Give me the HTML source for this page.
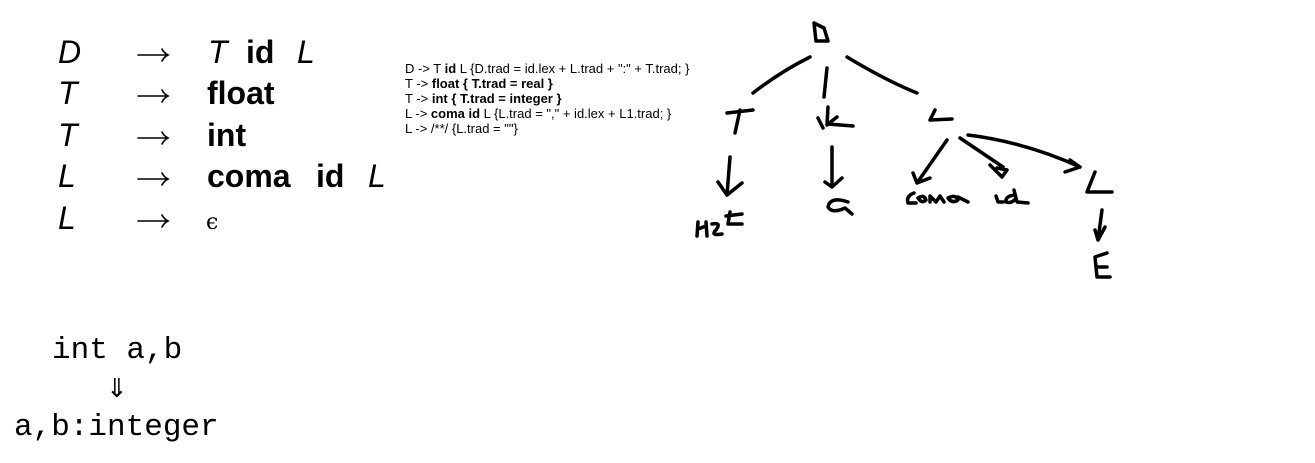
<!DOCTYPE html>
<html><head><meta charset="utf-8"><style>
html,body{margin:0;padding:0;background:#fff;width:1315px;height:463px;overflow:hidden}
svg{display:block}
</style></head><body>
<svg width="1315" height="463" viewBox="0 0 1315 463" xmlns="http://www.w3.org/2000/svg">
<g font-family="Liberation Sans, sans-serif" font-size="32" fill="#000">
<text x="58" y="63" font-style="italic">D</text>
<text x="58" y="104" font-style="italic">T</text>
<text x="58" y="146" font-style="italic">T</text>
<text x="58" y="187" font-style="italic">L</text>
<text x="58" y="229" font-style="italic">L</text>
<text x="208" y="63"><tspan font-style="italic">T</tspan><tspan x="246" font-weight="bold">id</tspan><tspan x="297" font-style="italic">L</tspan></text>
<text x="207" y="104" font-weight="bold">float</text>
<text x="207" y="146" font-weight="bold">int</text>
<text x="207" y="187"><tspan font-weight="bold">coma</tspan><tspan x="316" font-weight="bold">id</tspan><tspan x="368" font-style="italic">L</tspan></text>
<text x="206" y="229" font-family="DejaVu Serif, serif" font-size="22">ϵ</text>
</g>
<g fill="none" stroke="#000" stroke-width="1.6" stroke-linecap="round">
<path d="M138,55 L168,55 M162,49 Q164,53 168,55 Q164,57 162,61"/>
<path d="M138,96 L168,96 M162,90 Q164,94 168,96 Q164,98 162,102"/>
<path d="M138,138 L168,138 M162,132 Q164,136 168,138 Q164,140 162,144"/>
<path d="M138,179 L168,179 M162,173 Q164,177 168,179 Q164,181 162,185"/>
<path d="M138,221 L168,221 M162,215 Q164,219 168,221 Q164,223 162,227"/>
</g>
<g font-family="Liberation Mono, monospace" font-size="31" fill="#000">
<text x="52" y="358">int a,b</text>
<text x="14" y="435">a,b:integer</text>
</g>
<text x="106" y="397" font-family="DejaVu Sans, sans-serif" font-size="26">⇓</text>
<g font-family="Liberation Sans, sans-serif" font-size="13" fill="#000">
<text x="405" y="73">D -&gt; T <tspan font-weight="bold">id</tspan> L {D.trad = id.lex + L.trad + ":" + T.trad; }</text>
<text x="405" y="88">T -&gt; <tspan font-weight="bold">float { T.trad = real }</tspan></text>
<text x="405" y="103">T -&gt; <tspan font-weight="bold">int { T.trad = integer }</tspan></text>
<text x="405" y="118">L -&gt; <tspan font-weight="bold">coma id</tspan> L {L.trad = "," + id.lex + L1.trad; }</text>
<text x="405" y="133">L -&gt; /**/ {L.trad = ""}</text>
</g>
<g fill="none" stroke="#000" stroke-width="3.5" stroke-linecap="round" stroke-linejoin="round">
<path d="M814,23 L824,28 L828,41 L816,41 Z"/>
<path d="M810,57 Q780,72 753,93"/>
<path d="M827,68 L824,97"/>
<path d="M847,57 Q885,80 917,93"/>
<path d="M727,113 L753,110 M740,110 L735,133"/>
<path d="M818,118 L823,128 M828,107 L827,125 M837,117 L828,124 L853,126"/>
<path d="M935,110 L930,120 L952,119"/>
<path d="M730,157 L727,195 M718,182 L727,195 L742,183"/>
<path d="M698,222 L697,236 M698,229 L706,226 M706,222 L707,236 M712,224 Q722,222 716,230 Q710,236 722,234 M730,212 L728,224 L742,224 M726,216 L742,214"/>
<path d="M832,147 L832,187 M825,182 L832,187 L842,178"/>
<path d="M848,202 Q830,196 828,207 Q832,214 845,208 L852,214"/>
<path d="M947,140 L917,183 M913,173 L917,183 L930,178"/>
<path d="M914,193 Q906,196 908,203 L916,203 M918,198 Q924,194 926,200 Q922,204 918,198 M930,202 L930,196 L936,202 L940,196 L944,202 M948,198 Q956,194 958,200 Q952,204 948,198 M958,197 L968,202"/>
<path d="M960,138 L1003,167 M990,165 L1002,177 L1007,170 L997,168"/>
<path d="M996,196 L998,202 L1003,202 M1015,195 Q1005,196 1006,202 Q1012,204 1016,198 M1014,190 L1017,202 L1028,203"/>
<path d="M968,135 Q1025,142 1080,167 M1065,172 L1080,167 L1070,160"/>
<path d="M1095,172 L1087,192 L1112,192"/>
<path d="M1102,210 L1098,240 M1095,230 L1098,240 L1105,227"/>
<path d="M1107,253 L1095,257 L1097,277 L1110,277 M1097,267 L1107,267"/>
</g>
</svg>
</body></html>
